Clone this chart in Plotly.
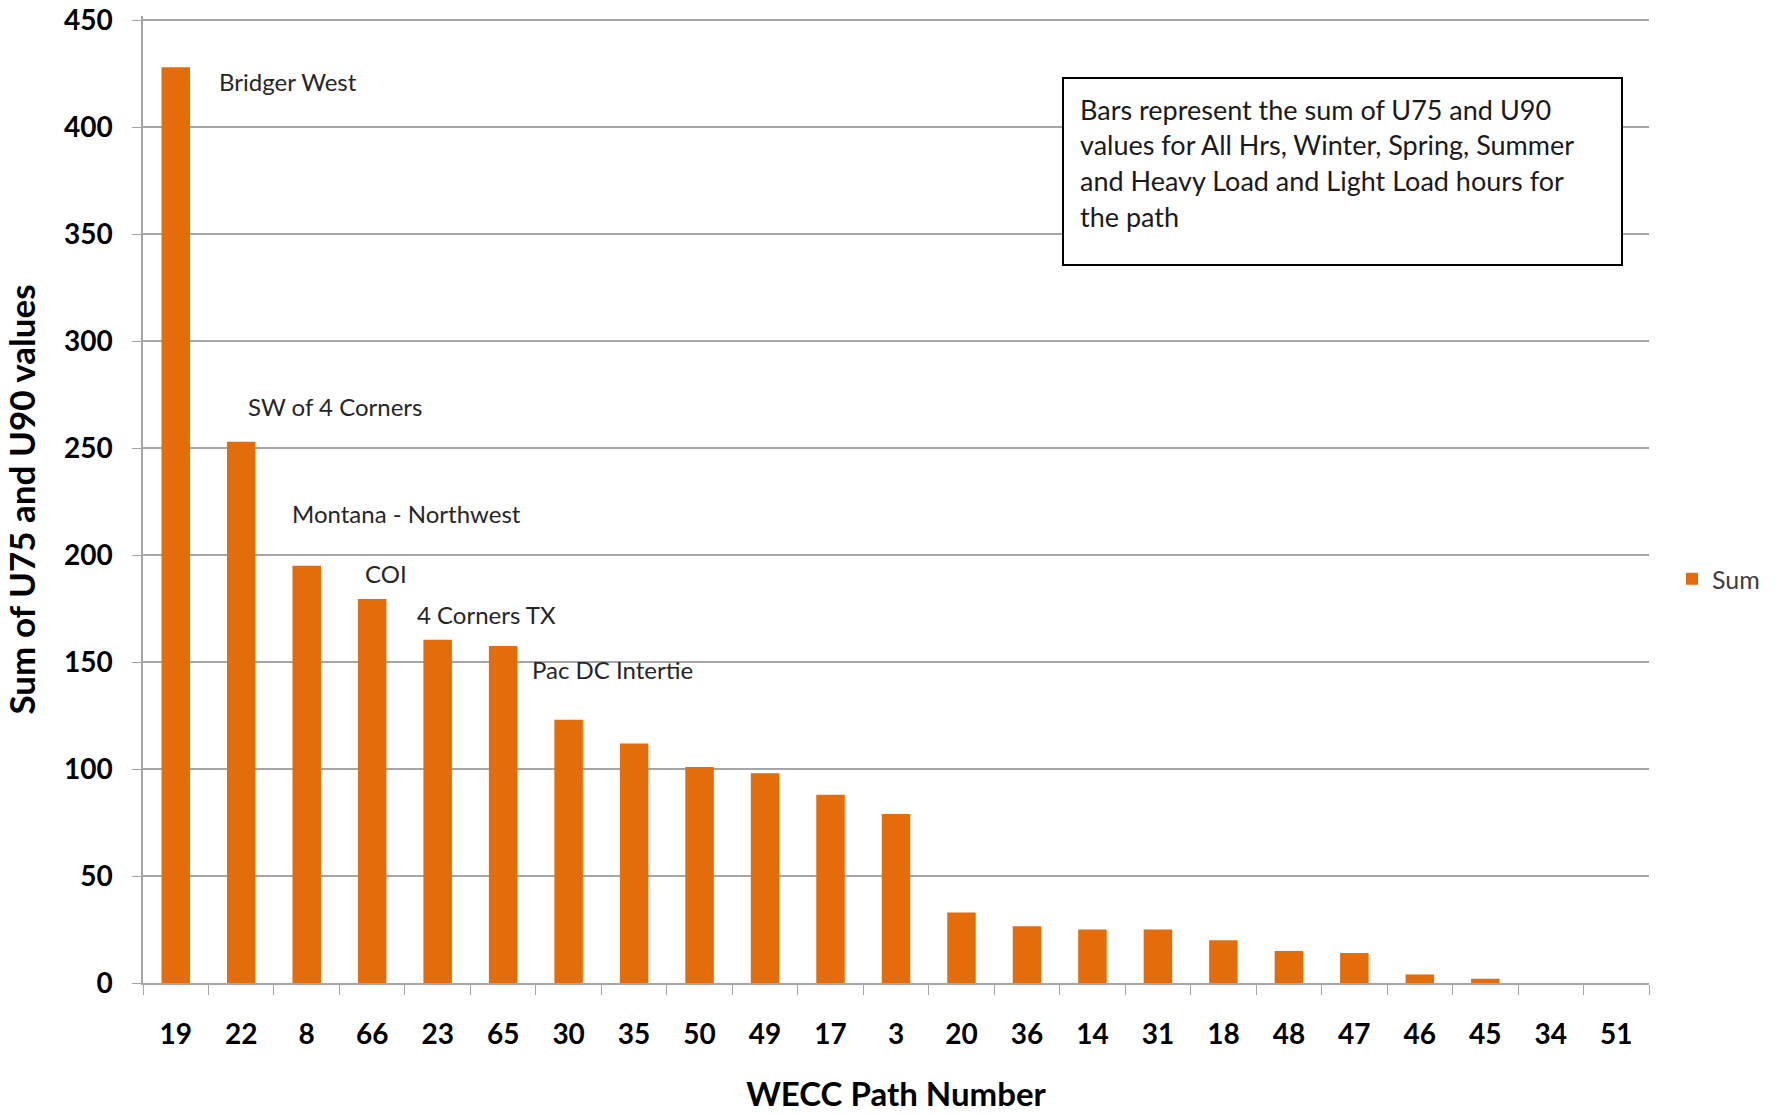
import plotly.graph_objects as go

# WECC path numbers, ordered by descending sum
paths = ["19", "22", "8", "66", "23", "65", "30", "35", "50", "49", "17", "3",
         "20", "36", "14", "31", "18", "48", "47", "46", "45", "34", "51"]
sums = [428, 253, 195, 179.5, 160.5, 157.5, 123, 112, 101, 98, 88, 79,
        33, 26.5, 25, 25, 20, 15, 14, 4, 2, 0, 0]

# Names of the leading paths, labelled next to their bars
path_names = {
    "19": "Bridger West",
    "22": "SW of 4 Corners",
    "8": "Montana - Northwest",
    "66": "COI",
    "23": "4 Corners TX",
    "65": "Pac DC Intertie",
}
# pixel offsets (right, up) of each name relative to the top of its bar
name_offsets = {
    "19": (41, -14),
    "22": (5, 35),
    "8": (-17, 52),
    "66": (-9, 25),
    "23": (-23, 25),
    "65": (27, -23),
}

note_lines = [
    "Bars represent the sum of U75 and U90",
    "values for All Hrs, Winter, Spring, Summer",
    "and Heavy Load and Light Load hours for",
    "the path",
]

ORANGE = "#E46C0A"
GRID = "#A6A6A6"
FONT = "Lato"

fig = go.Figure()
fig.add_trace(go.Bar(
    x=paths, y=sums, name="Sum",
    marker=dict(color=ORANGE, line=dict(width=0)),
))

W, H = 1781, 1114
ml, mr, mt, mb = 143, 132, 16, 131
YMAX = 452

annotations = []
for p, label in path_names.items():
    i = paths.index(p)
    dx, dy = name_offsets[p]
    annotations.append(dict(
        x=i, y=sums[i], xref="x", yref="y", text=label,
        showarrow=False, xanchor="left", yanchor="middle",
        xshift=dx, yshift=dy,
        font=dict(family=FONT, size=24, color="#262626"),
    ))

# explanatory note inside a framed box
pw = W - ml - mr
ph = H - mt - mb
def px_x(v):
    return (v - ml) / pw
def px_y(v):
    return (H - mb - v) / ph

for k, line in enumerate(note_lines):
    annotations.append(dict(
        x=px_x(1078), y=px_y(109 + 35.8 * k), xref="paper", yref="paper",
        text=line, showarrow=False, xanchor="left", yanchor="middle",
        font=dict(family=FONT, size=27, color="#1a1a1a"),
    ))

shapes = [dict(
    type="rect", xref="paper", yref="paper",
    x0=px_x(1063), x1=px_x(1622), y0=px_y(265), y1=px_y(78),
    line=dict(color="black", width=2), fillcolor="white", layer="above",
)]

fig.update_layout(
    width=W, height=H,
    margin=dict(l=ml, r=mr, t=mt, b=mb),
    paper_bgcolor="white", plot_bgcolor="white",
    bargap=0.565,
    font=dict(family=FONT, color="black"),
    showlegend=True,
    legend=dict(
        x=px_x(1672), y=px_y(579), xanchor="left", yanchor="middle",
        font=dict(family=FONT, size=25, color="#404040"),
        bgcolor="rgba(0,0,0,0)",
    ),
    annotations=annotations,
    shapes=shapes,
    xaxis=dict(
        type="category", range=[-0.5, len(paths) - 0.5], tickangle=0,
        automargin=False,
        showline=True, linecolor=GRID, linewidth=1.5,
        ticks="outside", tickson="boundaries", ticklen=10, tickcolor=GRID,
        tickfont=dict(family=FONT, size=28, color="black", weight="bold"),
        ticklabelstandoff=26,
        showgrid=False,
        title=dict(text="WECC Path Number", standoff=34,
                   font=dict(family=FONT, size=33, color="black", weight="bold")),
    ),
    yaxis=dict(
        range=[0, YMAX], tickvals=list(range(0, 451, 50)),
        automargin=False,
        showline=True, linecolor=GRID, linewidth=1.5,
        ticks="outside", ticklen=9, tickcolor=GRID,
        showgrid=True, gridcolor=GRID, gridwidth=1.5,
        zeroline=False,
        tickfont=dict(family=FONT, size=28, color="black", weight="bold"),
        ticklabelstandoff=14,
        title=dict(text="Sum of U75 and U90 values", standoff=28,
                   font=dict(family=FONT, size=35, color="black", weight="bold")),
    ),
)

fig.write_html("out.html")
